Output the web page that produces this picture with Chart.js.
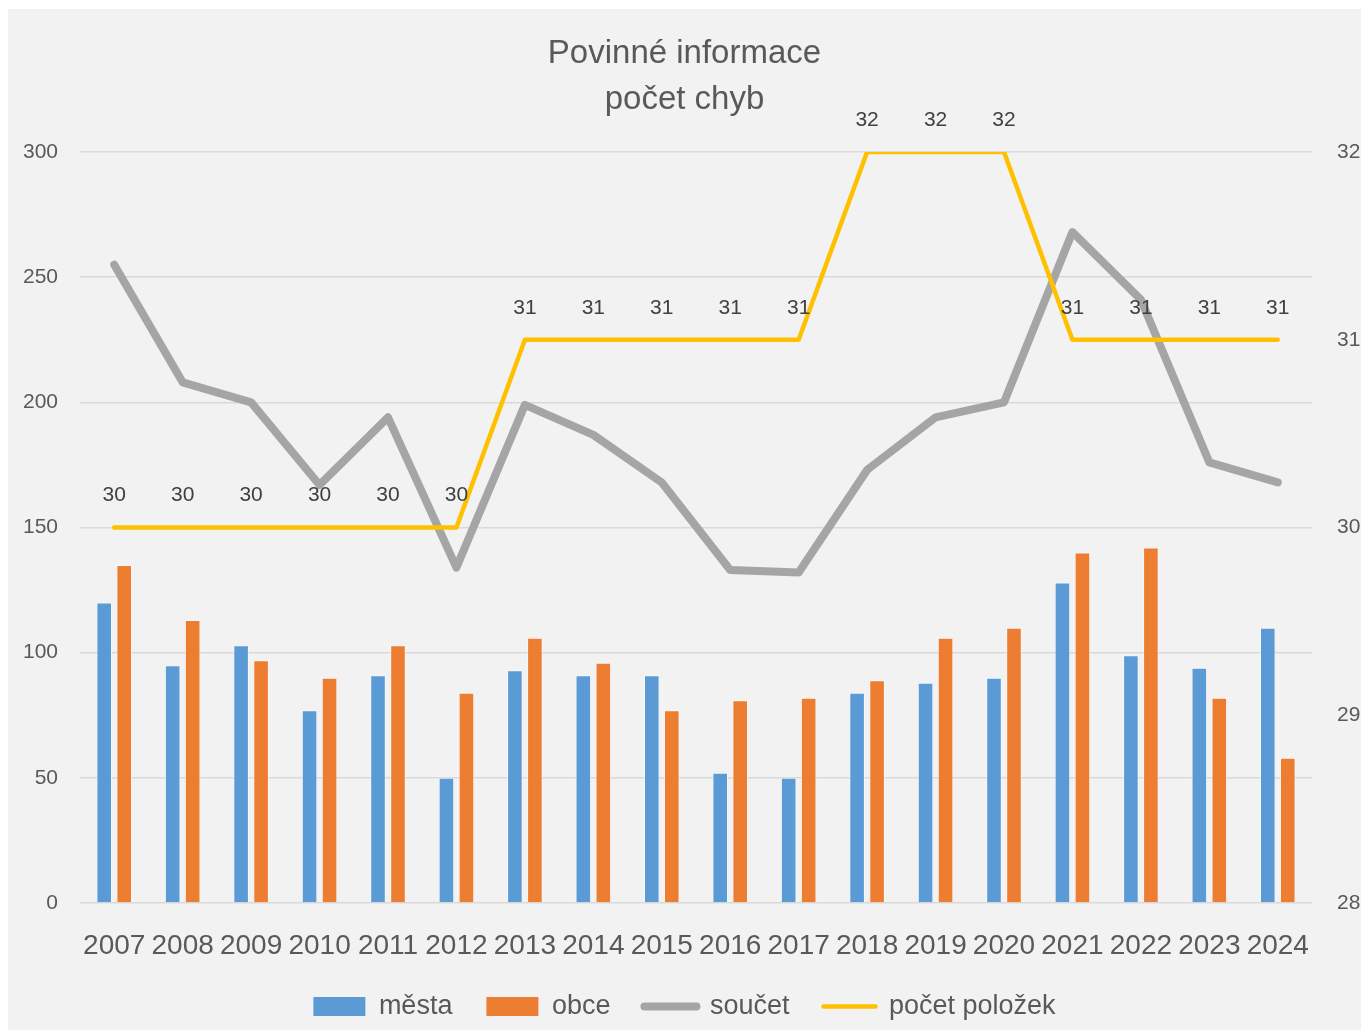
<!DOCTYPE html>
<html lang="cs">
<head>
<meta charset="utf-8">
<title>Povinné informace – počet chyb</title>
<script src="https://cdn.jsdelivr.net/npm/chart.js@4.4.1/dist/chart.umd.min.js"></script>
<style>
    html, body { margin: 0; padding: 0; background: #ffffff; }
    #wrap { position: absolute; left: 8px; top: 9px; width: 1353px; height: 1021px; }
</style>
</head>
<body>
<div id="wrap"><canvas id="chybyChart"></canvas></div>
<script>
// Data
const roky = ['2007', '2008', '2009', '2010', '2011', '2012', '2013', '2014', '2015',
              '2016', '2017', '2018', '2019', '2020', '2021', '2022', '2023', '2024'];
const mesta = [120, 95, 103, 77, 91, 50, 93, 91, 91, 52, 50, 84, 88, 90, 128, 99, 94, 110];
const obce = [135, 113, 97, 90, 103, 84, 106, 96, 77, 81, 82, 89, 106, 110, 140, 142, 82, 58];
const soucet = [255, 208, 200, 167, 194, 134, 199, 187, 168, 133, 132, 173, 194, 200, 268, 241, 176, 168];
const pocetPolozek = [30, 30, 30, 30, 30, 30, 31, 31, 31, 31, 31, 32, 32, 32, 31, 31, 31, 31];

const FONT = "'Liberation Sans', Arial, sans-serif";
const TEXT = '#595959';

// pozadí grafu
const pozadi = {
    id: 'pozadi',
    beforeDraw(chart) {
        const c = chart.ctx;
        c.save();
        c.fillStyle = '#f2f2f2';
        c.fillRect(0, 0, chart.width, chart.height);
        c.restore();
    }
};

// popisky hodnot nad žlutou čarou
const popisky = {
    id: 'popisky',
    afterDatasetsDraw(chart) {
        const meta = chart.getDatasetMeta(3);
        const c = chart.ctx;
        c.save();
        c.font = '21px ' + FONT;
        c.fillStyle = '#404040';
        c.textAlign = 'center';
        c.textBaseline = 'middle';
        meta.data.forEach((pt, i) => {
            c.fillText(String(pocetPolozek[i]), pt.x, pt.y - 32);
        });
        c.restore();
    }
};

const ctx = document.getElementById('chybyChart').getContext('2d');
new Chart(ctx, {
    data: {
        labels: roky,
        datasets: [
            {
                type: 'bar', label: 'města', data: mesta, yAxisID: 'y', order: 2,
                backgroundColor: '#5b9bd5', borderColor: 'rgba(255,255,255,0.45)',
                borderWidth: 1, borderSkipped: 'bottom',
                categoryPercentage: 0.584, barPercentage: 0.78
            },
            {
                type: 'bar', label: 'obce', data: obce, yAxisID: 'y', order: 2,
                backgroundColor: '#ed7d31', borderColor: 'rgba(255,255,255,0.45)',
                borderWidth: 1, borderSkipped: 'bottom',
                categoryPercentage: 0.584, barPercentage: 0.78
            },
            {
                type: 'line', label: 'součet', data: soucet, yAxisID: 'y', order: 1,
                borderColor: '#a5a5a5', borderWidth: 8, pointRadius: 0,
                borderCapStyle: 'round', borderJoinStyle: 'round', tension: 0
            },
            {
                type: 'line', label: 'počet položek', data: pocetPolozek, yAxisID: 'y1', order: 0,
                borderColor: '#ffc000', borderWidth: 4.5, pointRadius: 0,
                borderCapStyle: 'round', borderJoinStyle: 'round', tension: 0
            }
        ]
    },
    options: {
        responsive: true,
        maintainAspectRatio: false,
        animation: false,
        layout: { padding: { top: 22, left: 0, right: 0, bottom: 0 } },
        plugins: {
            tooltip: { enabled: false },
            title: {
                display: true,
                text: ['Povinné informace', 'počet chyb'],
                color: TEXT,
                font: { family: FONT, size: 33, weight: 'normal', lineHeight: 1.394 },
                padding: { top: 0, bottom: 29 }
            },
            legend: {
                position: 'bottom',
                labels: {
                    color: TEXT,
                    font: { family: FONT, size: 27 },
                    usePointStyle: true,
                    pointStyleWidth: 52,
                    boxHeight: 19,
                    padding: 34,
                    sort: (a, b) => a.datasetIndex - b.datasetIndex,
                    generateLabels(chart) {
                        return chart.data.datasets.map((ds, i) => {
                            const cara = ds.type === 'line';
                            return {
                                text: ds.label,
                                datasetIndex: i,
                                fillStyle: cara ? ds.borderColor : ds.backgroundColor,
                                strokeStyle: cara ? ds.borderColor : ds.backgroundColor,
                                lineWidth: cara ? ds.borderWidth : 0,
                                lineCap: 'round',
                                pointStyle: cara ? 'line' : 'rect',
                                fontColor: TEXT,
                                hidden: false
                            };
                        });
                    }
                }
            }
        },
        scales: {
            x: {
                grid: { display: false, drawTicks: false },
                border: { display: false },
                ticks: {
                    color: TEXT, font: { family: FONT, size: 28 }, padding: 26,
                    autoSkip: false, maxRotation: 0
                },
                afterFit(scale) { scale.height = 56; }
            },
            y: {
                position: 'left',
                min: 0, max: 300,
                grid: { color: '#d9d9d9', lineWidth: 1.5, drawTicks: false },
                border: { display: false },
                ticks: { stepSize: 50, color: TEXT, font: { family: FONT, size: 21 }, padding: 22 },
                afterFit(scale) { scale.width = 72; }
            },
            y1: {
                position: 'right',
                min: 28, max: 32,
                grid: { display: false, drawTicks: false },
                border: { display: false },
                ticks: { stepSize: 1, color: TEXT, font: { family: FONT, size: 21 }, padding: 25 },
                afterFit(scale) { scale.width = 49; }
            }
        }
    },
    plugins: [pozadi, popisky]
});
</script>
</body>
</html>
